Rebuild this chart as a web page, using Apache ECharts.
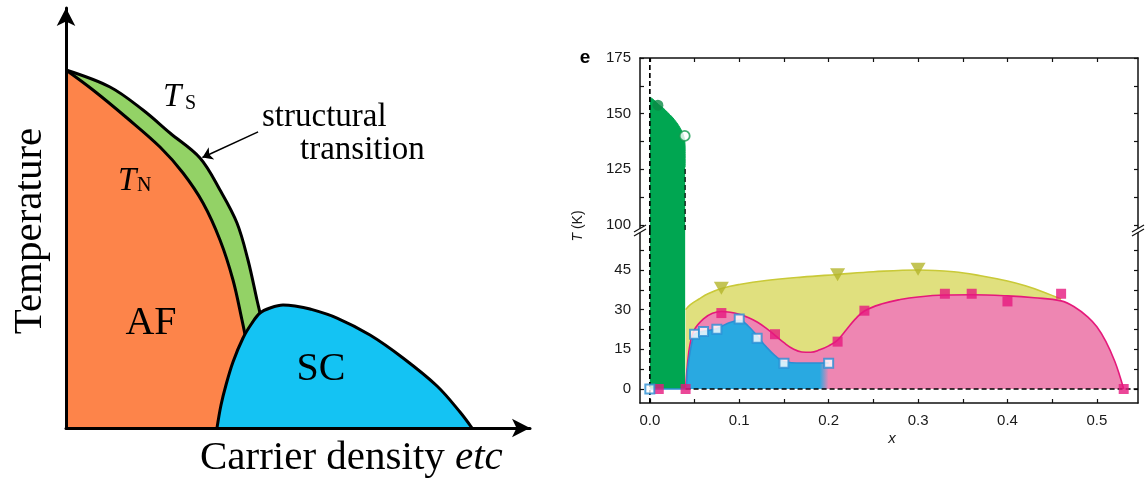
<!DOCTYPE html>
<html><head><meta charset="utf-8">
<script src="https://cdn.jsdelivr.net/npm/echarts@6/dist/echarts.min.js"></script>
<style>html,body{margin:0;padding:0;background:#fff}#c{width:1148px;height:483px}</style>
</head><body><div id="c"></div>
<script>
// ---------- Left schematic (arbitrary units: carrier density 0..100, temperature 0..100) ----------
const tsCurve = [[0,85.24],[9.48,81.19],[16.59,75.71],[22.41,70.24],[28.88,64.29],[33.19,56.67],[36.85,48.81],[39.22,40.0],[41.16,30.48],[42.03,26.19],[43.10,18.57],[43.97,9.05],[44.61,0]];
const tnCurve = [[0,85.24],[5.82,80.48],[13.15,73.81],[20.26,66.90],[25.22,60.71],[29.53,53.57],[33.19,44.76],[35.99,35.24],[37.93,25.71],[38.79,20.95],[40.09,11.43],[40.95,0]];
const scDome = [[32.54,0],[33.41,5.48],[34.48,10.24],[35.99,15.71],[38.15,21.43],[40.09,25.0],[41.81,27.38],[43.97,28.57],[46.77,29.29],[49.35,29.05],[52.59,28.33],[58.41,26.19],[65.52,22.14],[72.63,16.67],[79.96,10.0],[84.91,3.81],[87.5,0]];
const structArrow = [[41.4,70.5],[29.4,64.4]];

// ---------- Right panel: T (K) vs x ----------
const xTickLabels = [0,0.1,0.2,0.3,0.4,0.5];
const xTicks = [0,0.05,0.1,0.15,0.2,0.25,0.3,0.35,0.4,0.45,0.5];
const upperTickLabels = [100,125,150,175];
const upperTicks = [100,112.5,125,137.5,150,162.5,175];
const lowerTickLabels = [0,15,30,45];
const lowerTicks = [0,7.5,15,22.5,30,37.5,45,52.5];

const greenTop = [[0,157.5],[0.005,156],[0.01,154],[0.015,152.5],[0.02,150.5],[0.025,148.5],[0.03,146],[0.034,143.5],[0.037,141],[0.039,138],[0.0395,133],[0.0395,126]];
const greenLower = [[0,60.1],[0.0395,60.1]];
const tsFilledCircle = [[0.009,153.8]];
const tsOpenCircle = [[0.039,140]];
const yellowBoundary = [[0.04,30],[0.045,31.8],[0.055,34],[0.065,36],[0.08,38],[0.1,39.5],[0.13,41],[0.17,42.3],[0.21,43.3],[0.25,44.3],[0.3,45],[0.34,44.3],[0.37,42.8],[0.4,40.8],[0.42,39],[0.44,36.7],[0.46,34]];
const triangles = [[0.08,38.1],[0.21,43.2],[0.30,45.3]];
const pinkBoundary = [[0.04,0],[0.042,9],[0.045,17],[0.05,22.5],[0.06,26.5],[0.07,28.6],[0.08,29.3],[0.09,29],[0.1,28.2],[0.11,27],[0.12,25.3],[0.13,23],[0.14,20.3],[0.15,17.5],[0.16,15.2],[0.17,14],[0.18,13.9],[0.19,14.8],[0.2,16.3],[0.21,18.5],[0.22,22.5],[0.23,26.5],[0.24,29.5],[0.26,32.2],[0.28,33.8],[0.3,34.8],[0.33,35.5],[0.36,35.6],[0.4,35.2],[0.43,34.5],[0.46,33.3],[0.475,31],[0.49,27.2],[0.5,23.5],[0.51,18],[0.52,10.5],[0.526,4.5],[0.53,0]];
const pinkSquares = [[0.01,0],[0.04,0],[0.08,28.7],[0.14,20.7],[0.21,17.9],[0.24,29.6],[0.33,36],[0.36,36],[0.40,33.1],[0.46,36],[0.53,0]];
const blueBoundary = [[0,0],[0.04,0],[0.042,7],[0.045,14],[0.048,19],[0.05,20.7],[0.06,21.8],[0.075,22.8],[0.085,24.5],[0.1,26],[0.11,23.8],[0.12,20],[0.13,16],[0.14,12.6],[0.15,10.3],[0.17,9.8],[0.2,9.8]];
const openSquares = [[0,0],[0.05,20.7],[0.06,21.7],[0.075,22.6],[0.1,26.5],[0.12,19.2],[0.15,9.7],[0.2,9.7]];
const dashX0Upper = [[0,97.75],[0,175]];
const dashX0Lower = [[0,-5.3],[0,60.1]];
const dashT0 = [[0.04,0],[0.546,0]];
const dashGreenEdgeUpper = [[0.0395,97.75],[0.0395,126]];

const SERIF = 'Liberation Serif';
const SANS = 'Liberation Sans';
const AX = '#111';

const chart = echarts.init(document.getElementById('c'), null, {renderer:'canvas'});

function frameY(grid, min, max, pos, labels, ticks){
  return {gridIndex:grid, type:'value', position:pos, min:min, max:max,
    axisLine:{show:true, onZero:false, lineStyle:{color:AX, width:1.5}},
    axisTick:{show:true, inside:true, length:4, customValues:ticks, lineStyle:{color:AX, width:1.2}},
    axisLabel: labels ? {show:true, customValues:labels, margin:9, fontFamily:SANS, fontSize:15, color:'#1a1a1a'} : {show:false},
    splitLine:{show:false}};
}
function frameX(grid, pos, labels){
  return {gridIndex:grid, type:'value', position:pos, min:-0.011, max:0.546,
    axisLine:{show:true, onZero:false, lineStyle:{color:AX, width:1.5}},
    axisTick:{show:true, inside:true, length:4, customValues:xTicks, lineStyle:{color:AX, width:1.2}},
    axisLabel: labels ? {show:true, customValues:xTickLabels, margin:10, fontFamily:SANS, fontSize:15, color:'#1a1a1a', formatter:v=>v.toFixed(1)} : {show:false},
    splitLine:{show:false}};
}
function dashed(data, xi, yi, w){
  return {type:'line', xAxisIndex:xi, yAxisIndex:yi, data:data, symbol:'none', silent:true,
    lineStyle:{color:'#000', width:w||1.7, type:[5,3]}, z:5};
}

const option = {
  animation:false,
  backgroundColor:'#fff',
  grid:[
    {left:66, top:8, width:464, height:420},
    {left:640, top:58, width:498, height:172},
    {left:640, top:230, width:498, height:173}
  ],
  xAxis:[
    {gridIndex:0, type:'value', min:0, max:100,
      axisLine:{show:true, onZero:false, symbol:['none','arrow'], symbolSize:[14,18], lineStyle:{color:'#000', width:3}},
      axisTick:{show:false}, axisLabel:{show:false}, splitLine:{show:false}, z:10},
    frameX(1,'top',false),
    frameX(2,'bottom',true)
  ],
  yAxis:[
    {gridIndex:0, type:'value', min:0, max:100,
      axisLine:{show:true, onZero:false, symbol:['none','arrow'], symbolSize:[14,18], lineStyle:{color:'#000', width:3}},
      axisTick:{show:false}, axisLabel:{show:false}, splitLine:{show:false}, z:10},
    frameY(1,97.75,175,'left',upperTickLabels,upperTicks),
    frameY(1,97.75,175,'right',null,upperTicks),
    frameY(2,-5.3,60.1,'left',lowerTickLabels,lowerTicks),
    frameY(2,-5.3,60.1,'right',null,lowerTicks)
  ],
  series:[
    // left schematic
    {type:'line', xAxisIndex:0, yAxisIndex:0, data:tsCurve, smooth:0.35, symbol:'none', z:2,
      lineStyle:{color:'#000', width:3}, areaStyle:{color:'#93D266', opacity:1}},
    {type:'line', xAxisIndex:0, yAxisIndex:0, data:tnCurve, smooth:0.35, symbol:'none', z:3,
      lineStyle:{color:'#000', width:3}, areaStyle:{color:'#FD844A', opacity:1}},
    {type:'line', xAxisIndex:0, yAxisIndex:0, data:scDome, smooth:0.35, symbol:'none', z:4,
      lineStyle:{color:'#000', width:3}, areaStyle:{color:'#14C3F3', opacity:1}},
    {type:'lines', coordinateSystem:'cartesian2d', xAxisIndex:0, yAxisIndex:0, z:5,
      data:[{coords:structArrow}], symbol:['none','arrow'], symbolSize:10,
      lineStyle:{color:'#000', width:1.5, opacity:1, curveness:0}},
    // right panel
    {type:'line', xAxisIndex:1, yAxisIndex:1, data:greenTop, smooth:0.3, symbol:'none',
      lineStyle:{color:'#00A651', width:1}, areaStyle:{color:'#00A651', opacity:1}},
    {type:'line', xAxisIndex:2, yAxisIndex:3, data:greenLower, symbol:'none',
      lineStyle:{color:'#00A651', width:0}, areaStyle:{color:'#00A651', opacity:1}},
    {type:'line', xAxisIndex:2, yAxisIndex:3, data:yellowBoundary, smooth:0.4, symbol:'none',
      lineStyle:{color:'#C9C938', width:1.6}, areaStyle:{color:'#E0E07E', opacity:1}},
    {type:'line', xAxisIndex:2, yAxisIndex:3, data:pinkBoundary, smooth:0.4, symbol:'none',
      lineStyle:{color:'#E5197B', width:1.6}, areaStyle:{color:'#EE86B2', opacity:1}},
    {type:'line', xAxisIndex:2, yAxisIndex:3, data:blueBoundary, smooth:0.4, symbol:'none',
      lineStyle:{color:'#2B8FD4', width:1.6},
      areaStyle:{opacity:1, color:new echarts.graphic.LinearGradient(0,0,1,0,[
        {offset:0, color:'#29A9E1'},{offset:0.95, color:'#29A9E1'},{offset:1, color:'#EE86B2'}])}},
    dashed(dashX0Upper,1,1),
    dashed(dashGreenEdgeUpper,1,1,1.2),
    dashed(dashX0Lower,2,3),
    dashed(dashT0,2,3),
    {type:'scatter', xAxisIndex:1, yAxisIndex:1, data:tsFilledCircle, symbol:'circle', symbolSize:11,
      itemStyle:{color:'#0A8A45'}, z:10},
    {type:'scatter', xAxisIndex:1, yAxisIndex:1, data:tsOpenCircle, symbol:'circle', symbolSize:10,
      itemStyle:{color:'#fff', borderColor:'#139A4E', borderWidth:1.8}, z:10},
    {type:'scatter', xAxisIndex:2, yAxisIndex:3, data:triangles, symbol:'triangle', symbolRotate:180, symbolSize:[15,13],
      itemStyle:{color:'#B4B52A'}, z:10},
    {type:'scatter', xAxisIndex:2, yAxisIndex:3, data:pinkSquares, symbol:'rect', symbolSize:10,
      itemStyle:{color:'#E6197E'}, z:11},
    {type:'scatter', xAxisIndex:2, yAxisIndex:3, data:openSquares, symbol:'rect', symbolSize:9,
      itemStyle:{color:'#fff', borderColor:'#2B8FD4', borderWidth:2}, z:12}
  ],
  graphic:[
    // left texts
    {type:'text', x:30, y:231, rotation:Math.PI/2, z:100,
      style:{text:'Temperature', font:'41px '+SERIF, fill:'#000', align:'center', verticalAlign:'middle'}},
    {type:'text', x:200, y:458, z:100,
      style:{text:'{n|Carrier density }{i|etc}', align:'left', verticalAlign:'middle', fill:'#000',
        rich:{n:{fontFamily:SERIF, fontSize:41}, i:{fontFamily:SERIF, fontSize:41, fontStyle:'italic'}}}},
    {type:'text', x:163, y:97, z:100, style:{text:'T', font:'italic 33px '+SERIF, fill:'#000', align:'left', verticalAlign:'middle'}},
    {type:'text', x:185, y:104, z:100, style:{text:'S', font:'20px '+SERIF, fill:'#000', align:'left', verticalAlign:'middle'}},
    {type:'text', x:118, y:181, z:100, style:{text:'T', font:'italic 33px '+SERIF, fill:'#000', align:'left', verticalAlign:'middle'}},
    {type:'text', x:137, y:186, z:100, style:{text:'N', font:'20px '+SERIF, fill:'#000', align:'left', verticalAlign:'middle'}},
    {type:'text', x:262, y:117, z:100, style:{text:'structural', font:'33px '+SERIF, fill:'#000', align:'left', verticalAlign:'middle'}},
    {type:'text', x:300, y:150, z:100, style:{text:'transition', font:'33px '+SERIF, fill:'#000', align:'left', verticalAlign:'middle'}},
    {type:'text', x:151, y:323, z:100, style:{text:'AF', font:'40px '+SERIF, fill:'#000', align:'center', verticalAlign:'middle'}},
    {type:'text', x:321, y:369, z:100, style:{text:'SC', font:'40px '+SERIF, fill:'#000', align:'center', verticalAlign:'middle'}},
    // right texts
    {type:'text', x:585, y:58, z:100, style:{text:'e', font:'bold 19px '+SANS, fill:'#000', align:'center', verticalAlign:'middle'}},
    {type:'text', x:578, y:226, rotation:Math.PI/2, z:100,
      style:{text:'{i|T} (K)', align:'center', verticalAlign:'middle', fill:'#1a1a1a',
        rich:{i:{fontFamily:SANS, fontSize:14, fontStyle:'italic'}}, font:'14px '+SANS}},
    {type:'text', x:892, y:439, z:100, style:{text:'x', font:'italic 15px '+SANS, fill:'#1a1a1a', align:'center', verticalAlign:'middle'}},
    // axis break marks
    {type:'polygon', z:100, shape:{points:[[634,232],[646,225],[646,229],[634,236]]}, style:{fill:'#fff'}},
    {type:'polyline', z:101, shape:{points:[[634,232],[646,225]]}, style:{stroke:AX, lineWidth:1.2}},
    {type:'polyline', z:101, shape:{points:[[634,236],[646,229]]}, style:{stroke:AX, lineWidth:1.2}},
    {type:'polygon', z:100, shape:{points:[[1132,232],[1144,225],[1144,229],[1132,236]]}, style:{fill:'#fff'}},
    {type:'polyline', z:101, shape:{points:[[1132,232],[1144,225]]}, style:{stroke:AX, lineWidth:1.2}},
    {type:'polyline', z:101, shape:{points:[[1132,236],[1144,229]]}, style:{stroke:AX, lineWidth:1.2}}
  ]
};
chart.setOption(option);
</script></body></html>
